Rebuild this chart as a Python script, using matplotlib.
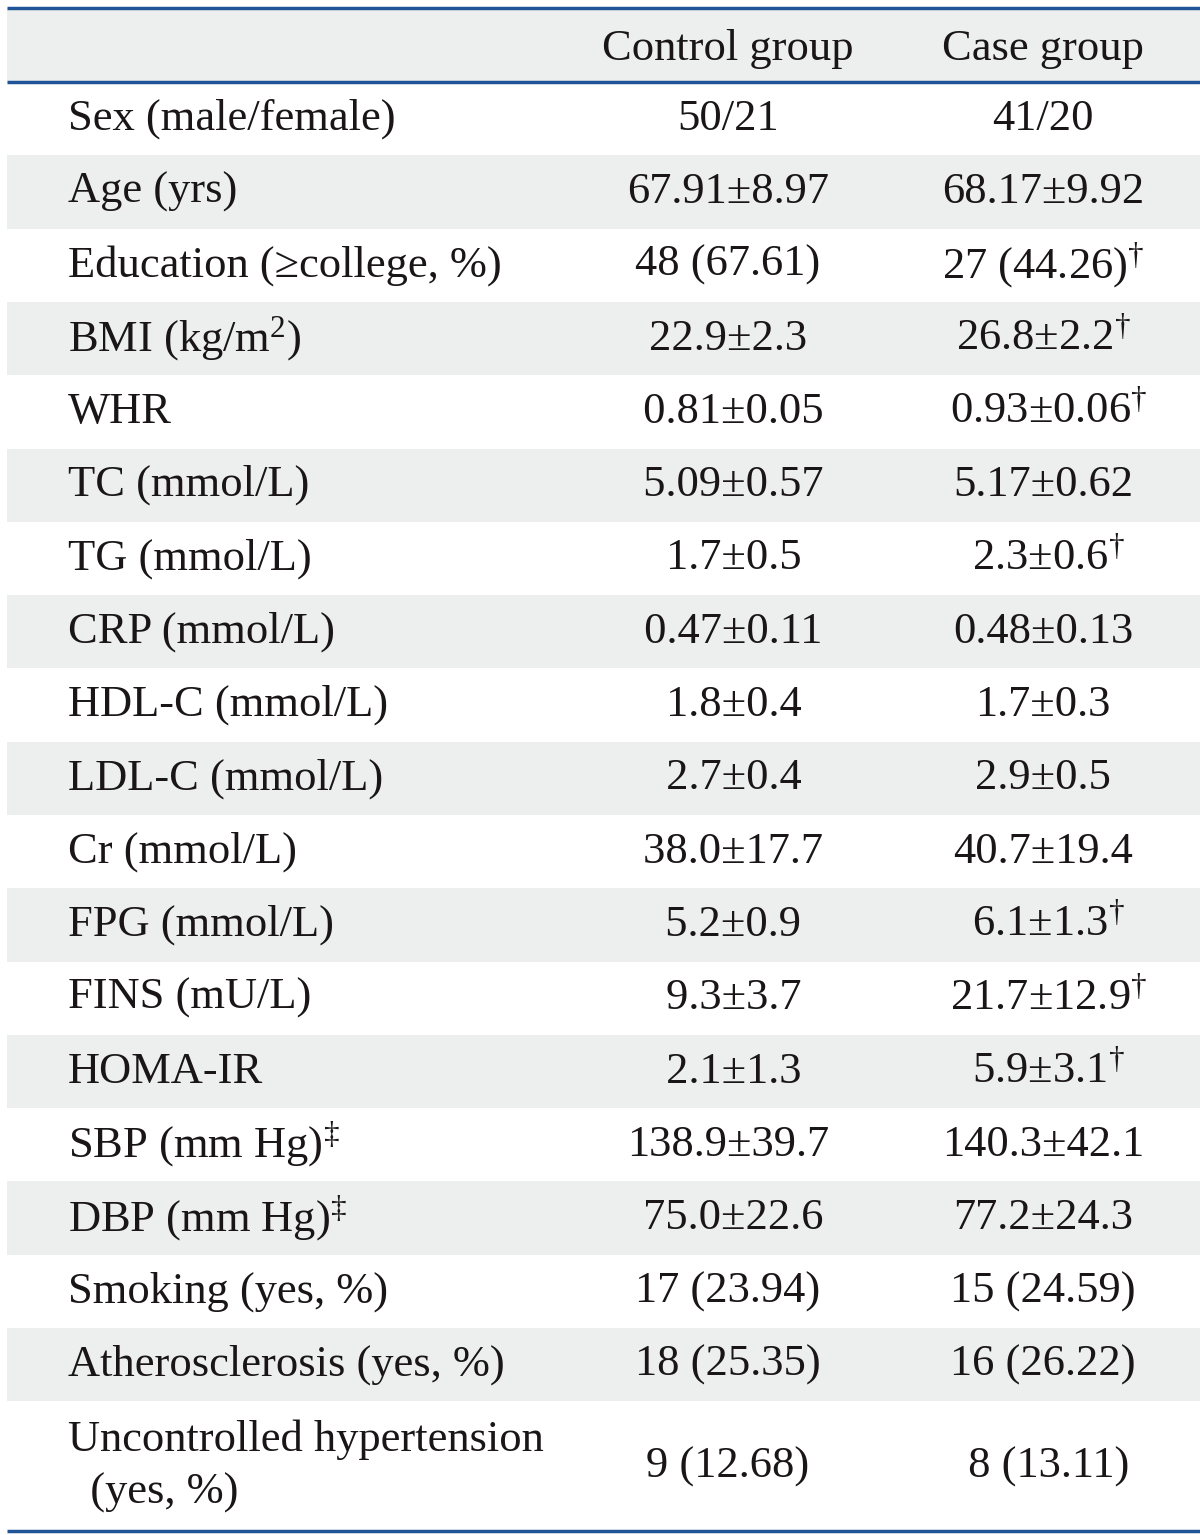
import matplotlib
matplotlib.use("Agg")
import matplotlib.pyplot as plt
from matplotlib.patches import Rectangle

plt.rcParams['font.family'] = ['Liberation Serif', 'DejaVu Serif']
plt.rcParams['mathtext.fontset'] = 'custom'
plt.rcParams['mathtext.rm'] = 'Liberation Serif'
plt.rcParams['mathtext.it'] = 'Liberation Serif'

DAG = r'$^{\dagger}$'
DDAG = r'$^{\ddagger}$'

headers = ["Control group", "Case group"]

row_labels = [
    "Sex (male/female)", "Age (yrs)", "Education (\u2265college, %)",
    "BMI (kg/m$^{2}$)", "WHR", "TC (mmol/L)", "TG (mmol/L)", "CRP (mmol/L)",
    "HDL-C (mmol/L)", "LDL-C (mmol/L)", "Cr (mmol/L)", "FPG (mmol/L)",
    "FINS (mU/L)", "HOMA-IR", "SBP (mm Hg)" + DDAG, "DBP (mm Hg)" + DDAG,
    "Smoking (yes, %)", "Atherosclerosis (yes, %)",
    "Uncontrolled hypertension\n  (yes, %)",
]

control = [
    "50/21", "67.91\u00b18.97", "48 (67.61)", "22.9\u00b12.3", " 0.81\u00b10.05",
    " 5.09\u00b10.57", " 1.7\u00b10.5", " 0.47\u00b10.11", " 1.8\u00b10.4",
    " 2.7\u00b10.4", " 38.0\u00b117.7", " 5.2\u00b10.9", " 9.3\u00b13.7",
    " 2.1\u00b11.3", "138.9\u00b139.7", " 75.0\u00b122.6", "17 (23.94)",
    "18 (25.35)", "9 (12.68)",
]

case = [
    "41/20", "68.17\u00b19.92", "27 (44.26)" + DAG, "26.8\u00b12.2" + DAG,
    " 0.93\u00b10.06" + DAG, "5.17\u00b10.62", " 2.3\u00b10.6" + DAG,
    "0.48\u00b10.13", "1.7\u00b10.3", "2.9\u00b10.5", "40.7\u00b119.4",
    " 6.1\u00b11.3" + DAG, " 21.7\u00b112.9" + DAG, " 5.9\u00b13.1" + DAG,
    "140.3\u00b142.1", "77.2\u00b124.3", "15 (24.59)", "16 (26.22)",
    " 8 (13.11)",
]

W, H = 1200, 1535
fig = plt.figure(figsize=(W / 100, H / 100), dpi=100)
ax = fig.add_axes([0, 0, 1, 1])
ax.set_xlim(0, W)
ax.set_ylim(H, 0)
ax.axis('off')

gray = '#edeeee'
blue = '#1f5597'
ink = '#1a1617'
fs = 32
x_label = 68
x_cols = [728, 1043]
left, right = 7, 1200

top = 8
header_h = 74
row_h = 73.3
last_h = 130

# header
ax.add_patch(Rectangle((left, top), right - left, header_h, color=gray, lw=0))
for xc, h in zip(x_cols, headers):
    ax.text(xc, top + header_h / 2 + 4, h, ha='center', va='center', fontsize=fs, color=ink)

y = top + header_h
for i, (lab, c1, c2) in enumerate(zip(row_labels, control, case)):
    h = last_h if i == len(row_labels) - 1 else row_h
    if i % 2 == 1:
        ax.add_patch(Rectangle((left, y), right - left, h, color=gray, lw=0))
    yc = y + h / 2
    ax.text(x_label, yc, lab, ha='left', va='center', fontsize=fs, color=ink,
            linespacing=1.4)
    ax.text(x_cols[0], yc, c1, ha='center', va='center', fontsize=fs, color=ink)
    ax.text(x_cols[1], yc, c2, ha='center', va='center', fontsize=fs, color=ink)
    y += h

for yy in [top, top + header_h, y]:
    ax.plot([left, right], [yy, yy], color=blue, lw=2.5, solid_capstyle='butt')

fig.savefig("out.png", dpi=100)
